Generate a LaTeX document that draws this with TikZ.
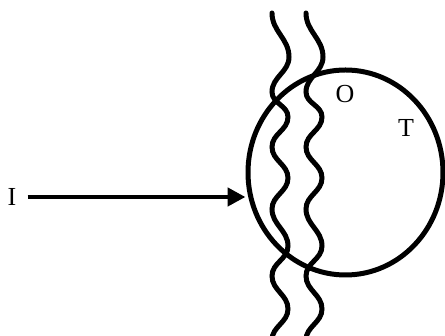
\documentclass[tikz,border=0pt]{standalone}
\usepackage{fontspec}
\setmainfont{Liberation Serif}
\usepackage{tikz}
\usetikzlibrary{arrows.meta}
\usetikzlibrary{shapes.geometric}

\tikzset{
  wave/.style={line width=5pt,line cap=round},
  tag/.style={inner sep=0pt,font=\fontsize{26}{30}\selectfont},
}

\begin{document}
\begin{tikzpicture}[x=1pt,y=1pt]
            \useasboundingbox (0,0) rectangle (445,336);

            \node[draw,ellipse,line width=5pt,inner sep=0pt,
                  minimum width=195pt,minimum height=205pt] (cell) at (345.5,163.5) {};

            \node[tag] (lblO) at (345,242) {O};
            \node[tag] (lblT) at (406,208) {T};
            \node[tag] (lblI) at (12,139) {I};

            % two wavy lines crossing the circle
            \foreach \s in {0,34} {
              \draw[wave] (272+\s,323)
                \foreach \x/\y in {289/279,272/244,288/219,272/189,288/158,
                                   272/127,288/90,272/60,288/27,272/-4}
                  { to[out=-90,in=90] (\x+\s,\y) };
            }

            \draw[line width=4.5pt,-{Triangle[length=18pt,width=18pt]},shorten <=11pt]
              (lblI.east) -- (lblI -| cell.west);

        \end{tikzpicture}
\end{document}
